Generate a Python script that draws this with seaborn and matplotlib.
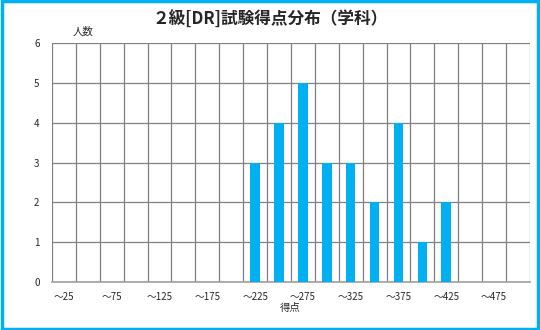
import matplotlib
matplotlib.use("Agg")
import matplotlib.pyplot as plt
import seaborn as sns
import numpy as np
import pandas as pd
from matplotlib.patches import Rectangle

sns.set_style("white")
plt.rcParams['font.family'] = ['Noto Sans CJK JP', 'DejaVu Sans']

categories = ["〜%d" % v for v in range(25, 525, 25)]
counts = [0, 0, 0, 0, 0, 0, 0, 0, 3, 4, 5, 3, 3, 2, 4, 1, 2, 0, 0, 0]
tick_labels = [c if i % 2 == 0 else "" for i, c in enumerate(categories)]

df = pd.DataFrame({"score": categories, "count": counts})

fig = plt.figure(figsize=(5.4, 3.3), dpi=100)
ax = fig.add_axes([0.0963, 0.1455, 0.885, 0.724])
sns.barplot(data=df, x="score", y="count", order=categories, color="#00B0F0",
            width=0.4, saturation=1, linewidth=0, ax=ax, zorder=3)

ax.set_xlim(-0.5, len(categories) - 0.5)
ax.set_ylim(0, 6)
ax.set_yticks(range(0, 7))
ax.set_xticks(range(len(categories)))
ax.set_xticklabels(tick_labels, fontsize=7)
ax.set_xticks(np.arange(-0.5, len(categories), 1), minor=True)
ax.tick_params(axis='x', which='both', length=0, pad=7)
ax.tick_params(axis='y', length=3, width=0.8, color="#808080", labelsize=7, pad=6)
ax.grid(True, axis='x', which='minor', color="#808080", linewidth=0.9, zorder=0)
ax.grid(True, axis='y', which='major', color="#808080", linewidth=0.9, zorder=0)
ax.set_axisbelow(True)
for s in ['top', 'right']:
    ax.spines[s].set_visible(False)
ax.spines['left'].set_visible(False)
ax.spines['bottom'].set_color("#A0A0A0")
ax.spines['bottom'].set_linewidth(1.2)
ax.set_xlabel("")
ax.set_ylabel("")

fig.text(0.5, 0.94, "２級[DR]試験得点分布（学科）", ha='center', va='center',
         fontsize=12, fontweight='bold')
fig.text(0.153, 0.905, "人数", ha='center', va='center', fontsize=7.5)
fig.text(0.538, 0.068, "得点", ha='center', va='center', fontsize=7.5)

fig.patches.append(Rectangle((0.003, 0.004), 0.994, 0.992, transform=fig.transFigure,
                             fill=False, edgecolor="#00B0F0", linewidth=2.5))

fig.savefig("out.png", dpi=100)
